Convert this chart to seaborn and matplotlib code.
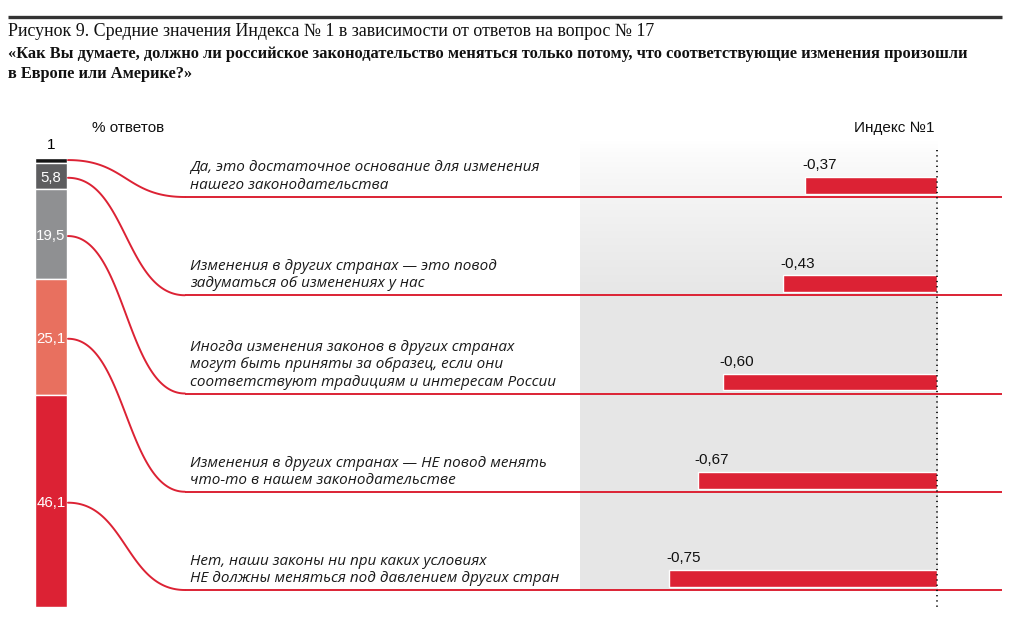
import numpy as np
import pandas as pd
import matplotlib
matplotlib.use("Agg")
import matplotlib.pyplot as plt
import seaborn as sns

# --- data -------------------------------------------------------------
share_values = [1.0, 5.8, 19.5, 25.1, 46.1]
share_colors = ["#151515", "#5d5d5f", "#8f9092", "#e8705f", "#dc2234"]
answers = [
    "Да, это достаточное основание для изменения\nнашего законодательства",
    "Изменения в других странах — это повод\nзадуматься об изменениях у нас",
    "Иногда изменения законов в других странах\nмогут быть приняты за образец, если они\nсоответствуют традициям и интересам России",
    "Изменения в других странах — НЕ повод менять\nчто-то в нашем законодательстве",
    "Нет, наши законы ни при каких условиях\nНЕ должны меняться под давлением других стран",
]
index_values = [-0.37, -0.43, -0.60, -0.67, -0.75]

title_line1 = "Рисунок 9. Средние значения Индекса № 1 в зависимости от ответов на вопрос № 17"
title_line2 = ("«Как Вы думаете, должно ли российское законодательство меняться только потому, "
               "что соответствующие изменения произошли\nв Европе или Америке?»")

RED = "#dc2234"
W, H = 1024, 632

sns.set_theme(style="white")
plt.rcParams["font.family"] = ["Liberation Sans", "DejaVu Sans"]

fig = plt.figure(figsize=(W / 100, H / 100), dpi=100)


def px_axes(x0, y0, x1, y1, **kw):
    return fig.add_axes([x0 / W, 1 - y1 / H, (x1 - x0) / W, (y1 - y0) / H], **kw)


# --- title ------------------------------------------------------------
ov = px_axes(0, 0, W, H, facecolor="none")
ov.set_xlim(0, W)
ov.set_ylim(H, 0)
ov.axis("off")
ov.plot([8, 1002], [17, 17], color="#333333", lw=2.4, solid_capstyle="butt")
ov.text(8, 31, title_line1, family="Liberation Serif", fontsize=12.9,
        va="center", ha="left", color="#111111")
ov.text(8, 64, title_line2, family="Liberation Serif", fontsize=11.8,
        fontweight="bold", va="center", ha="left", color="#111111", linespacing=1.35)

# --- left stacked bar -------------------------------------------------
axl = px_axes(35, 158, 67, 607)
bottom = 0.0
centers = []
for val, col in zip(share_values, share_colors):
    axl.bar(0, val, bottom=bottom, width=1.0, color=col, edgecolor="white", linewidth=1.0)
    centers.append(bottom + val / 2)
    bottom += val
axl.set_xlim(-0.5, 0.5)
axl.set_ylim(bottom, 0)
axl.axis("off")
for i, (val, c) in enumerate(zip(share_values, centers)):
    txt = f"{val:g}".replace(".", ",")
    if i == 0:
        axl.text(0, -1.4, txt, ha="center", va="bottom", fontsize=11, color="black")
    else:
        axl.text(0, c + 0.4, txt, ha="center", va="center", fontsize=10.8, color="white")
ov.text(128, 128, "% ответов", ha="center", va="center", fontsize=11, color="#111111")

# --- right bars -------------------------------------------------------
x_left_px, x_right_px = 185, 1002
zero_px, unit_px = 937, 357
row_px, first_px = 98.25, 185.5
top_px, bot_px = 99, 620
axr = px_axes(x_left_px, top_px, x_right_px, bot_px, facecolor="none")

df = pd.DataFrame({"answer": [f"a{i}" for i in range(len(index_values))],
                   "value": index_values})
sns.barplot(data=df, x="value", y="answer", orient="h", color=RED,
            saturation=1, width=0.173, ax=axr, zorder=3)

xmin = -(zero_px - x_left_px) / unit_px
xmax = (x_right_px - zero_px) / unit_px
ymin = (top_px - first_px) / row_px
ymax = (bot_px - first_px) / row_px

line_off = 11.5 / row_px
n = len(index_values)

# gray gradient background from -1 to 0
grad_top = (140 - first_px) / row_px
ramp = np.clip(np.linspace(0, 1, 200) / 0.35, 0, 1) ** 0.8
shade = 1 - (1 - 0.902) * ramp
img = np.repeat(shade[:, None, None], 3, axis=2).repeat(2, axis=1)
axr.imshow(img, extent=[-1, 0, n - 1 + line_off, grad_top], aspect="auto",
           zorder=0, interpolation="bilinear")
axr.set_xlim(xmin, xmax)
axr.set_ylim(ymax, ymin)
axr.axis("off")

axr.plot([0, 0], [(150 - first_px) / row_px, (610 - first_px) / row_px],
         color="#111111", lw=1.3, ls=(0, (0.7, 2.2)), zorder=4)

for i, (v, lab) in enumerate(zip(index_values, answers)):
    axr.plot([xmin, xmax], [i + line_off] * 2, color=RED, lw=1.4, zorder=2)
    axr.text(v - 3 / unit_px, i - 0.205, f"{v:.2f}".replace(".", ","),
             ha="left", va="center", fontsize=11, color="#111111", zorder=5)
    axr.text(xmin + 5 / unit_px, i + line_off - 4 / row_px, lab, ha="left", va="bottom",
             fontsize=11, style="italic", family=["Open Sans", "DejaVu Sans"],
             color="#1a1a1a", linespacing=1.2, zorder=5)

ov.text(935, 128, "Индекс №1", ha="right", va="center", fontsize=11, color="#111111")

# --- connectors -------------------------------------------------------
def to_ov(ax, x, y):
    return ov.transData.inverted().transform(ax.transData.transform((x, y)))


for i, c in enumerate(centers):
    yc = 0.45 if i == 0 else c + 0.4
    x0, y0 = to_ov(axl, 0.5, yc)
    x1, y1 = to_ov(axr, xmin, i + line_off)
    t = np.linspace(0, 1, 120)[:, None]
    p0, p1, p2, p3 = (np.array([x0 + 1, y0]), np.array([x0 + 0.5 * (x1 - x0), y0]),
                      np.array([x0 + 0.5 * (x1 - x0), y1]), np.array([x1, y1]))
    pts = ((1 - t) ** 3) * p0 + 3 * ((1 - t) ** 2) * t * p1 + 3 * (1 - t) * t ** 2 * p2 + t ** 3 * p3
    ov.plot(pts[:, 0], pts[:, 1], color=RED, lw=1.4)

fig.savefig("out.png", dpi=100, facecolor="white")
